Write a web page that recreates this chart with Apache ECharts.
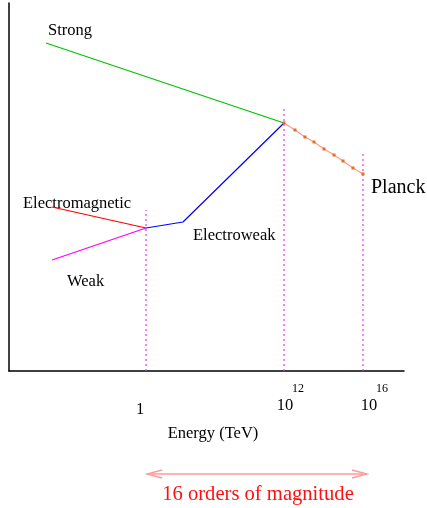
<!DOCTYPE html>
<html>
<head>
<meta charset="utf-8">
<script src="https://cdn.jsdelivr.net/npm/echarts@6/dist/echarts.min.js"></script>
<style>
html,body{margin:0;padding:0;background:#fff;}
#c{width:427px;height:508px;}
</style>
</head>
<body>
<div id="c"></div>
<script>
// Schematic chart: x and y are in arbitrary schematic units
var strong = [[37,328],[275,248]];
var electromagnetic = [[43,164],[137,143]];
var weak = [[43,111],[137,143]];
var electroweak = [[137,143],[174,149],[275,248]];
var planck = [[275,248],[286,241],[296,234],[305,229],[315,222],[325,216],[334,210],[344,203],[354,197]];
var guideX = [137, 275, 354];
var guideTop = [161, 263, 218];

var tickBase = ['1', '10', '10'];
var tickBaseX = [131, 276, 360];
var tickExp = ['', '12', '16'];
var tickExpX = [0, 289, 373];

var seriesLabels = ['Strong', 'Electromagnetic', 'Weak', 'Electroweak', 'Planck'];
var seriesLabelPos = [[39,340],[14,167],[58,89],[184,135],[362,183]];
var seriesLabelSize = [16.5, 16.5, 16.5, 16.5, 20];

var axisTitle = 'Energy (TeV)';
var spanText = '16 orders of magnitude';
var spanFrom = 138, spanTo = 358;

var FONT = "'Liberation Serif','Times New Roman',serif";

var chart = echarts.init(document.getElementById('c'), null, {renderer:'canvas'});

function lineSeries(name, data, color, width){
  return {name:name, type:'line', data:data, showSymbol:false, symbol:'none',
    lineStyle:{color:color, width:width||1.2}, silent:true, animation:false, z:3};
}

var series = [
  lineSeries('Strong', strong, '#00c000'),
  lineSeries('Electromagnetic', electromagnetic, '#ff0000'),
  lineSeries('Weak', weak, '#ff00ff'),
  lineSeries('Electroweak', electroweak, '#0000ff'),
  {name:'Planck', type:'line', data:planck, symbol:'rect', symbolSize:3, showSymbol:true,
    itemStyle:{color:'#e0702a'}, lineStyle:{color:'#ff9a8a', width:1.3}, silent:true, animation:false, z:4}
];
guideX.forEach(function(gx, i){
  series.push({type:'line', data:[[gx,0],[gx,guideTop[i]]], symbol:'none', silent:true, animation:false, z:2,
    lineStyle:{color:'#ee33ee', width:1.2, type:[2,3]}});
});

chart.setOption({
  animation:false,
  backgroundColor:'#fff',
  grid:{left:9, top:3, width:395, height:368},
  xAxis:{type:'value', min:0, max:395, axisLine:{show:true, onZero:false, lineStyle:{color:'#000', width:1.5}},
    axisTick:{show:false}, axisLabel:{show:false}, splitLine:{show:false}},
  yAxis:{type:'value', min:0, max:368, axisLine:{show:true, onZero:false, lineStyle:{color:'#000', width:1.5}},
    axisTick:{show:false}, axisLabel:{show:false}, splitLine:{show:false}},
  series:series
});

function P(x,y){ return chart.convertToPixel({gridIndex:0}, [x,y]); }

var g = [];
seriesLabels.forEach(function(t,i){
  var p = P(seriesLabelPos[i][0], seriesLabelPos[i][1]);
  g.push({type:'text', x:p[0], y:p[1], style:{text:t, fontFamily:FONT, fontSize:seriesLabelSize[i], fill:'#000', align:'left', verticalAlign:'middle'}});
});
tickBase.forEach(function(t,i){
  var p = P(tickBaseX[i], -34.5);
  g.push({type:'text', x:p[0], y:p[1] + (i===0?4:0), style:{text:t, fontFamily:FONT, fontSize:16.5, fill:'#000', align:'center', verticalAlign:'middle'}});
  if (tickExp[i]) {
    var q = P(tickExpX[i], -18);
    g.push({type:'text', x:q[0], y:q[1], style:{text:tickExp[i], fontFamily:FONT, fontSize:12, fill:'#000', align:'center', verticalAlign:'middle'}});
  }
});
var pt = P(204, -62.5);
g.push({type:'text', x:pt[0], y:pt[1], style:{text:axisTitle, fontFamily:FONT, fontSize:16.5, fill:'#000', align:'center', verticalAlign:'middle'}});

var a0 = P(spanFrom, -103), a1 = P(spanTo, -103);
var ac = '#ff9a9a';
g.push({type:'line', shape:{x1:a0[0], y1:a0[1], x2:a1[0], y2:a1[1]}, style:{stroke:ac, lineWidth:1.5}});
g.push({type:'polyline', shape:{points:[[a0[0]+15,a0[1]-4],[a0[0],a0[1]],[a0[0]+15,a0[1]+4]]}, style:{stroke:ac, lineWidth:1.3, fill:null}});
g.push({type:'polyline', shape:{points:[[a1[0]-15,a1[1]-4],[a1[0],a1[1]],[a1[0]-15,a1[1]+4]]}, style:{stroke:ac, lineWidth:1.3, fill:null}});
var ps = P((spanFrom+spanTo)/2 + 1, -123.5);
g.push({type:'text', x:ps[0], y:ps[1], style:{text:spanText, fontFamily:FONT, fontSize:20.6, fill:'#ff1010', align:'center', verticalAlign:'middle'}});

chart.setOption({graphic:g});
</script>
</body>
</html>
